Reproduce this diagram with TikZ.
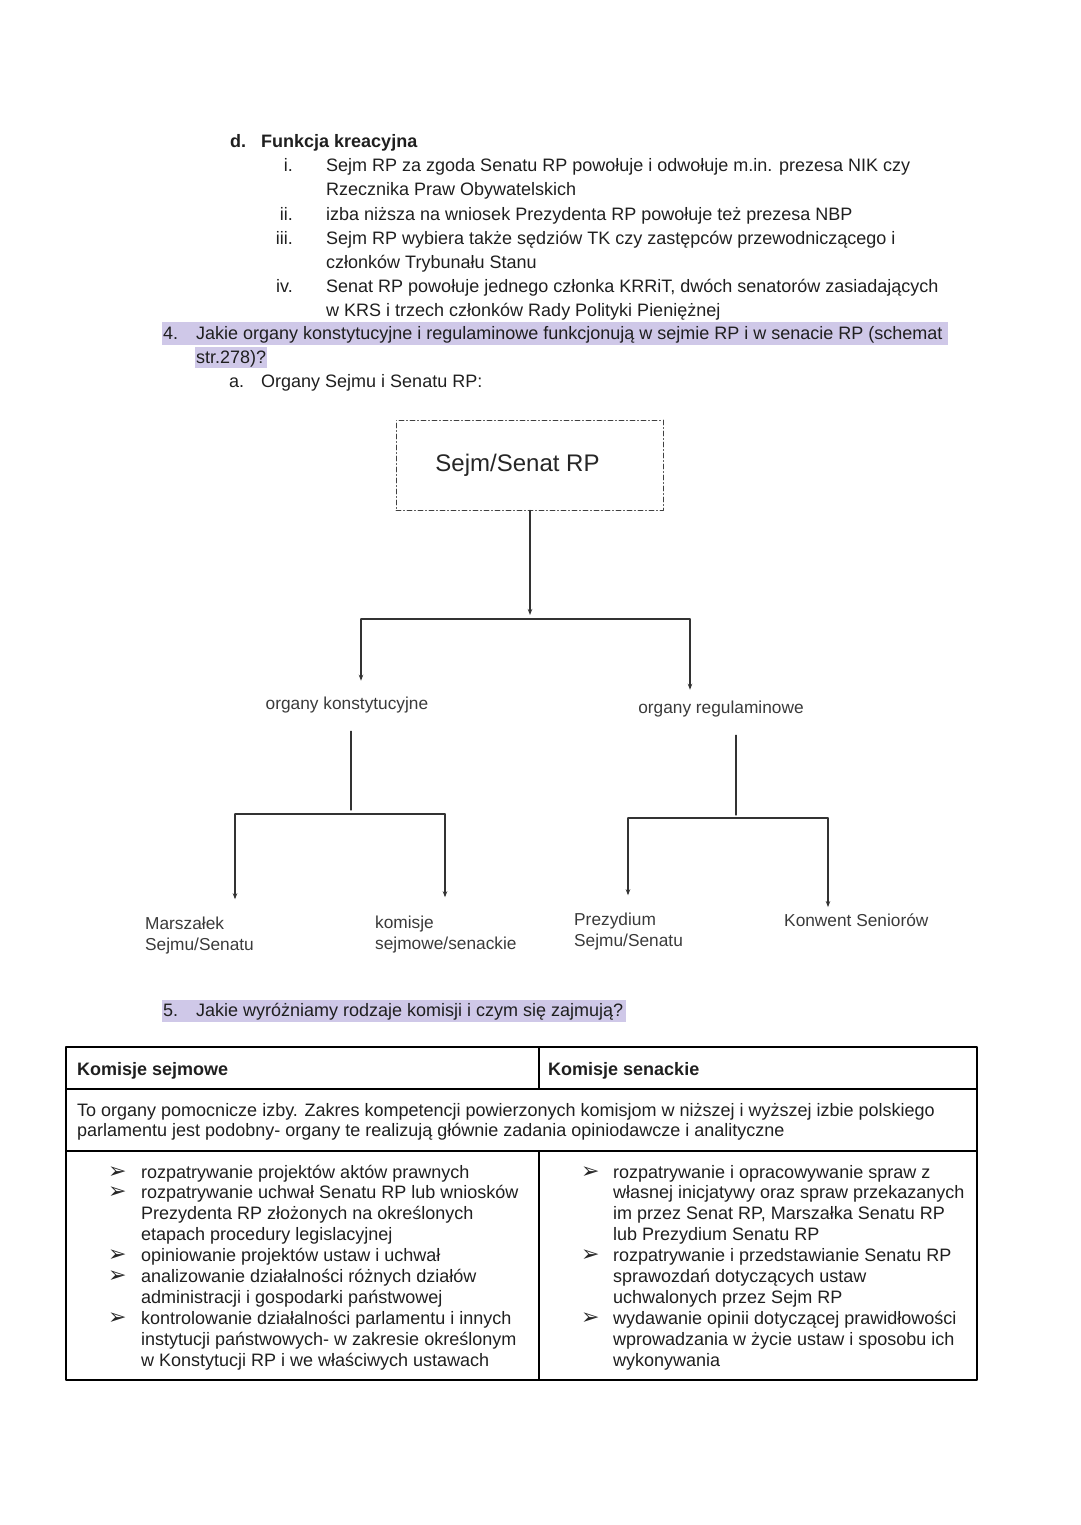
\documentclass[tikz,border=0pt]{standalone}
\usepackage{fontspec}
\setmainfont{Liberation Sans}
\newfontfamily\symfont{DejaVu Sans}
\usetikzlibrary{arrows.meta}

\definecolor{markpurple}{HTML}{CFC8E8}
\definecolor{lblgray}{HTML}{3A3A3A}

\begin{document}
\begin{tikzpicture}[
    x=1pt,
    y=-1pt,
    line cap=round,
    line join=round,
    txt/.style={
        anchor=base west,
        inner sep=0pt,
        align=left,
        text=black!88,
        font=\fontsize{18}{24}\selectfont
    },
    num/.style={
        txt,
        anchor=base east
    },
    tab/.style={
        txt,
        font=\fontsize{18}{20.9}\selectfont
    },
    blt/.style={
        anchor=base west,
        inner sep=0pt,
        text=black!85,
        font=\symfont\fontsize{22}{20.9}\selectfont
    },
    lbl/.style={
        inner sep=0pt,
        align=left,
        text=lblgray,
        font=\fontsize{17.3}{21}\selectfont
    },
    headbox/.style={
        draw=black!75,
        line width=0.8pt,
        dash pattern=on 5pt off 2.5pt on 1pt off 2.5pt,
        minimum width=267pt,
        minimum height=90pt,
        font=\fontsize{24}{28}\selectfont,
        text=black!85
    },
    conn/.style={
        draw=black!80,
        line width=1.1pt
    },
    arr/.style={
        conn,
        -{Stealth[length=6pt,width=4.5pt]}
    },
    frame/.style={
        line width=1.8pt
    }
]

\useasboundingbox (0,0) rectangle (1080,1525);

% =================================================
% Podkreslenia pytan
% =================================================

\fill[markpurple] (162,322) rectangle (948,345);
\fill[markpurple] (195,347) rectangle (267,368);
\fill[markpurple] (162,1000) rectangle (626,1022);

% =================================================
% Funkcja kreacyjna
% (wielowierszowe wezly: punkt = linia bazowa ostatniego wiersza)
% =================================================

\node[txt,font=\bfseries\fontsize{18}{24}\selectfont] (hd) at (230,148) {d.};
\node[txt,font=\bfseries\fontsize{18}{24}\selectfont] (hdt) at (261,148) {Funkcja kreacyjna};

\node[num] (n1) at (293,172) {i.};
\node[txt] (t1) at (326,196) {Sejm RP za zgoda Senatu RP powołuje i odwołuje m.in. prezesa NIK czy\\Rzecznika Praw Obywatelskich};
\node[num] (n2) at (293,220) {ii.};
\node[txt] (t2) at (326,220) {izba niższa na wniosek Prezydenta RP powołuje też prezesa NBP};
\node[num] (n3) at (293,244) {iii.};
\node[txt] (t3) at (326,268) {Sejm RP wybiera także sędziów TK czy zastępców przewodniczącego i\\członków Trybunału Stanu};
\node[num] (n4) at (293,292) {iv.};
\node[txt] (t4) at (326,316) {Senat RP powołuje jednego członka KRRiT, dwóch senatorów zasiadających\\w KRS i trzech członków Rady Polityki Pieniężnej};

% =================================================
% Pytanie 4
% =================================================

\node[txt] (q4) at (163,339) {4.};
\node[txt] (q4t) at (196,363) {Jakie organy konstytucyjne i regulaminowe funkcjonują w sejmie RP i w senacie RP (schemat\\str.278)?};
\node[txt] (qa) at (229,387) {a.};
\node[txt] (qat) at (261,387) {Organy Sejmu i Senatu RP:};

% =================================================
% Schemat organow
% =================================================

\node[headbox] (izba) at (529.5,465) {Sejm/Senat RP\hspace*{24pt}};

\node[lbl] (konst) at (347,705) {organy konstytucyjne};
\node[lbl] (regul) at (721,709) {organy regulaminowe};

\node[lbl,anchor=base west] (marsz) at (145,950) {Marszałek\\Sejmu/Senatu};
\node[lbl,anchor=base west] (komis) at (375,949) {komisje\\sejmowe/senackie};
\node[lbl,anchor=base west] (prez) at (574,946) {Prezydium\\Sejmu/Senatu};
\node[lbl,anchor=base west] (konw) at (784,926) {Konwent Seniorów};

% punkty rozgalezien
\coordinate (b0) at (530,615);
\coordinate (b1l) at (361,619);
\coordinate (b1r) at (690,619);
\coordinate (k0) at (351,810);
\coordinate (k1l) at (235,814);
\coordinate (k1r) at (445,814);
\coordinate (r0) at (736,815);
\coordinate (r1l) at (628,818);
\coordinate (r1r) at (828,818);

\draw[arr] (izba.south -| b0) -- (b0);
\draw[conn] (b1l) -- (b1r);
\draw[arr] (b1l) -- ([yshift=16pt]konst.north -| b1l);
\draw[arr] (b1r) -- ([yshift=11pt]regul.north -| b1r);

\draw[conn] ([yshift=-18pt]konst.south -| k0) -- (k0);
\draw[conn] (k1l) -- (k1r);
\draw[arr] (k1l) -- ([yshift=17pt]marsz.north -| k1l);
\draw[arr] (k1r) -- ([yshift=18pt]komis.north -| k1r);

\draw[conn] ([yshift=-18pt]regul.south -| r0) -- (r0);
\draw[conn] (r1l) -- (r1r);
\draw[arr] (r1l) -- ([yshift=17pt]prez.north -| r1l);
\draw[arr] (r1r) -- ([yshift=6pt]konw.north -| r1r);

% =================================================
% Pytanie 5 i tabela komisji
% =================================================

\node[txt] (q5) at (163,1016) {5.};
\node[txt] (q5t) at (196,1016) {Jakie wyróżniamy rodzaje komisji i czym się zajmują?};

\draw[frame] (66,1047) rectangle (977,1380);
\draw[frame] (66,1089) -- (977,1089);
\draw[frame] (66,1151) -- (977,1151);
\draw[frame] (539,1047) -- (539,1089);
\draw[frame] (539,1151) -- (539,1380);

\node[tab,font=\bfseries\fontsize{18}{20.9}\selectfont] (hsejm) at (77,1075) {Komisje sejmowe};
\node[tab,font=\bfseries\fontsize{18}{20.9}\selectfont] (hsenat) at (548,1075) {Komisje senackie};

\node[tab,font=\fontsize{18}{20}\selectfont] (opis) at (77,1136) {To organy pomocnicze izby. Zakres kompetencji powierzonych komisjom w niższej i wyższej izbie polskiego\\parlamentu jest podobny- organy te realizują głównie zadania opiniodawcze i analityczne};

\node[tab] (lsejm) at (141,1366.1) {rozpatrywanie projektów aktów prawnych\\rozpatrywanie uchwał Senatu RP lub wniosków\\Prezydenta RP złożonych na określonych\\etapach procedury legislacyjnej\\opiniowanie projektów ustaw i uchwał\\analizowanie działalności różnych działów\\administracji i gospodarki państwowej\\kontrolowanie działalności parlamentu i innych\\instytucji państwowych- w zakresie określonym\\w Konstytucji RP i we właściwych ustawach};
\node[tab] (lsenat) at (613,1366.1) {rozpatrywanie i opracowywanie spraw z\\własnej inicjatywy oraz spraw przekazanych\\im przez Senat RP, Marszałka Senatu RP\\lub Prezydium Senatu RP\\rozpatrywanie i przedstawianie Senatu RP\\sprawozdań dotyczących ustaw\\uchwalonych przez Sejm RP\\wydawanie opinii dotyczącej prawidłowości\\wprowadzania w życie ustaw i sposobu ich\\wykonywania};

\foreach \k in {0,1,4,5,7}
    \node[blt] at (108,1178+20.9*\k) {➢};
\foreach \k in {0,4,7}
    \node[blt] at (581,1178+20.9*\k) {➢};

\end{tikzpicture}
\end{document}
